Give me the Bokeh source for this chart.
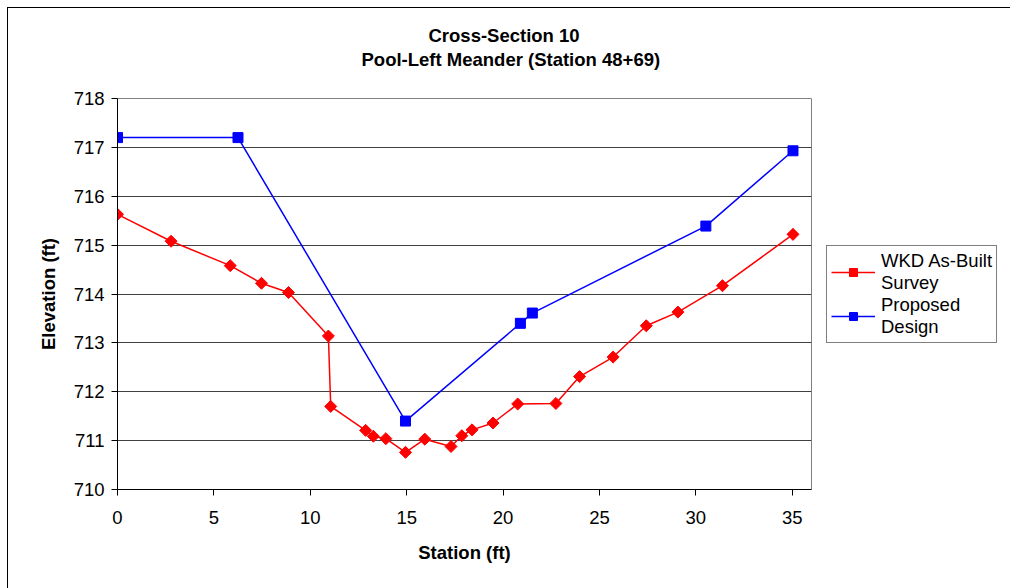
from bokeh.plotting import figure
from bokeh.models import (ColumnDataSource, Legend, LegendItem, FixedTicker, Range1d, Title)
from bokeh.embed import file_html
from bokeh.resources import INLINE

# ---- data ----
survey_station = [0.0, 2.78, 5.85, 7.47, 8.87, 10.94, 11.06, 12.87, 13.27, 13.92, 14.94,
                  15.94, 17.30, 17.86, 18.39, 19.48, 20.76, 22.74, 23.97, 25.71, 27.43,
                  29.07, 31.38, 35.04]
survey_elev = [715.63, 715.08, 714.58, 714.22, 714.03, 713.14, 711.70, 711.21, 711.09, 711.04,
               710.76, 711.03, 710.88, 711.10, 711.22, 711.36, 711.75, 711.76, 712.31, 712.71,
               713.35, 713.63, 714.17, 715.22]
design_station = [0.0, 6.25, 14.94, 20.90, 21.52, 30.52, 35.04]
design_elev = [717.2, 717.2, 711.40, 713.40, 713.61, 715.39, 716.93]

x_ticks = [0, 5, 10, 15, 20, 25, 30, 35]
y_ticks = [710, 711, 712, 713, 714, 715, 716, 717, 718]

title_line1 = "Cross-Section 10"
title_line2 = "Pool-Left Meander (Station 48+69)"
x_label = "Station (ft)"
y_label = "Elevation (ft)"
survey_name = "WKD As-Built\nSurvey"
design_name = "Proposed\nDesign"

FONT = "Liberation Sans"
FS = "18.5px"

p = figure(frame_width=694, frame_height=391, output_backend="svg", toolbar_location=None,
           x_range=Range1d(0, 36), y_range=Range1d(710, 718),
           min_border_left=109, min_border_right=199, min_border_top=90, min_border_bottom=99,
           background_fill_color="white", border_fill_color="white")
p.styles = {"margin-left": "7px", "margin-top": "7px",
            "border-left": "1px solid black", "border-top": "1px solid black"}

# spacer between plot area and the two title lines
spacer = Title(text=" ", standoff=5, text_font=FONT, text_font_size=FS, text_color="white")
t2 = Title(text=title_line2, align="left", offset=244, standoff=2,
           text_font=FONT, text_font_size=FS, text_font_style="bold", text_color="black")
t1 = Title(text=title_line1, align="left", offset=311, standoff=0,
           text_font=FONT, text_font_size=FS, text_font_style="bold", text_color="black")
p.add_layout(spacer, "above")
p.add_layout(t2, "above")
p.add_layout(t1, "above")

p.outline_line_color = "#808080"
p.outline_line_width = 1

# axes
for ax in (p.xaxis[0], p.yaxis[0]):
    ax.axis_line_color = "black"
    ax.major_tick_line_color = "black"
    ax.major_tick_out = 6
    ax.major_tick_in = 0
    ax.minor_tick_line_color = None
    ax.major_label_text_font = FONT
    ax.major_label_text_font_size = FS
    ax.major_label_text_color = "black"
    ax.axis_label_text_font = FONT
    ax.axis_label_text_font_size = FS
    ax.axis_label_text_font_style = "bold"
    ax.axis_label_text_color = "black"

p.xaxis.ticker = FixedTicker(ticks=x_ticks)
p.yaxis.ticker = FixedTicker(ticks=y_ticks)
p.xaxis.axis_label = x_label
p.yaxis.axis_label = y_label
p.xaxis.major_label_standoff = 15
p.yaxis.major_label_standoff = 7
p.xaxis.axis_label_standoff = 15
p.yaxis.axis_label_standoff = 12

p.xgrid.grid_line_color = None
p.ygrid.ticker = FixedTicker(ticks=y_ticks)
p.ygrid.grid_line_color = "#404040"
p.ygrid.grid_line_width = 1

src_s = ColumnDataSource(dict(x=survey_station, y=survey_elev))
src_d = ColumnDataSource(dict(x=design_station, y=design_elev))

l1 = p.line("x", "y", source=src_s, line_color="#FF0000", line_width=1.5)
m1 = p.scatter("x", "y", source=src_s, marker="square", size=8.5, angle=0.785398,
               fill_color="#FF0000", line_color="#FF0000")
l2 = p.line("x", "y", source=src_d, line_color="#0000FF", line_width=1.5)
m2 = p.scatter("x", "y", source=src_d, marker="square", size=10,
               fill_color="#0000FF", line_color="#0000FF")

legend = Legend(items=[LegendItem(label=survey_name, renderers=[l1, m1]),
                       LegendItem(label=design_name, renderers=[l2, m2])],
                location="center_left", border_line_color="black", border_line_width=1,
                background_fill_color="white", background_fill_alpha=1,
                label_text_font=FONT, label_text_font_size=FS, label_text_color="black",
                label_text_line_height=0.95,
                glyph_width=44, label_standoff=6, padding=4, spacing=0, margin=15)
p.add_layout(legend, "right")

open("out.html", "w").write(file_html(p, INLINE))
